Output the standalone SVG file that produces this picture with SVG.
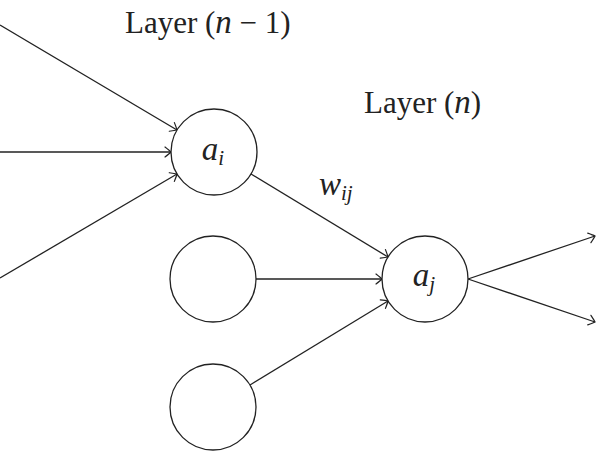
<svg xmlns="http://www.w3.org/2000/svg" width="597" height="452" viewBox="0 0 597 452">
<style>
.node{fill:#fff;stroke:#222;stroke-width:1.3}
.edge{fill:none;stroke:#222;stroke-width:1.3;marker-end:url(#to)}
.lbl{font-family:"Liberation Serif","DejaVu Serif",serif;font-size:31px;fill:#222}
.m{font-style:italic}
.mm{font-style:italic;font-size:33px}
.sub{font-size:21px;font-style:italic}
</style>
<defs>
<marker id="to" markerUnits="userSpaceOnUse" markerWidth="14" markerHeight="14" viewBox="-8 -7 10 14" refX="0" refY="0" orient="auto" overflow="visible">
<path d="M -6,-5 Q -1.5,-1.5 0,0 Q -1.5,1.5 -6,5" fill="none" stroke="#222" stroke-width="1.2" stroke-linecap="round"/>
</marker>
</defs>
<rect width="597" height="452" fill="#fff"/>
<g id="connectors">
<line class="edge" x1="0" y1="25" x2="177" y2="130"/>
<line class="edge" x1="0" y1="152" x2="171" y2="152"/>
<line class="edge" x1="0" y1="278" x2="177" y2="174"/>
<line class="edge" x1="251" y1="174" x2="388" y2="257"/>
<line class="edge" x1="256" y1="279" x2="382" y2="279"/>
<line class="edge" x1="250" y1="385" x2="388" y2="301"/>
<line class="edge" x1="468" y1="279" x2="595" y2="236"/>
<line class="edge" x1="468" y1="279" x2="595" y2="322"/>
</g>
<g id="node-ai">
<circle class="node" cx="214" cy="152" r="43"/>
<text class="lbl" x="213" y="160" text-anchor="middle"><tspan class="mm">a</tspan><tspan class="sub" dy="5">i</tspan></text>
</g>
<g id="node-h1">
<circle class="node" cx="213" cy="279" r="43"/>
</g>
<g id="node-h2">
<circle class="node" cx="213" cy="407" r="43"/>
</g>
<g id="node-aj">
<circle class="node" cx="425" cy="279" r="43"/>
<text class="lbl" x="424" y="286" text-anchor="middle"><tspan class="mm">a</tspan><tspan class="sub" dy="5">j</tspan></text>
</g>
<g id="label-layer-n-1">
<text class="lbl" x="125" y="33">Layer (<tspan class="mm">n</tspan> − 1)</text>
</g>
<g id="label-layer-n">
<text class="lbl" x="364" y="113">Layer (<tspan class="mm">n</tspan>)</text>
</g>
<g id="label-wij">
<text class="lbl" x="319" y="195"><tspan class="mm">w</tspan><tspan class="sub" dy="5">ij</tspan></text>
</g>
</svg>
